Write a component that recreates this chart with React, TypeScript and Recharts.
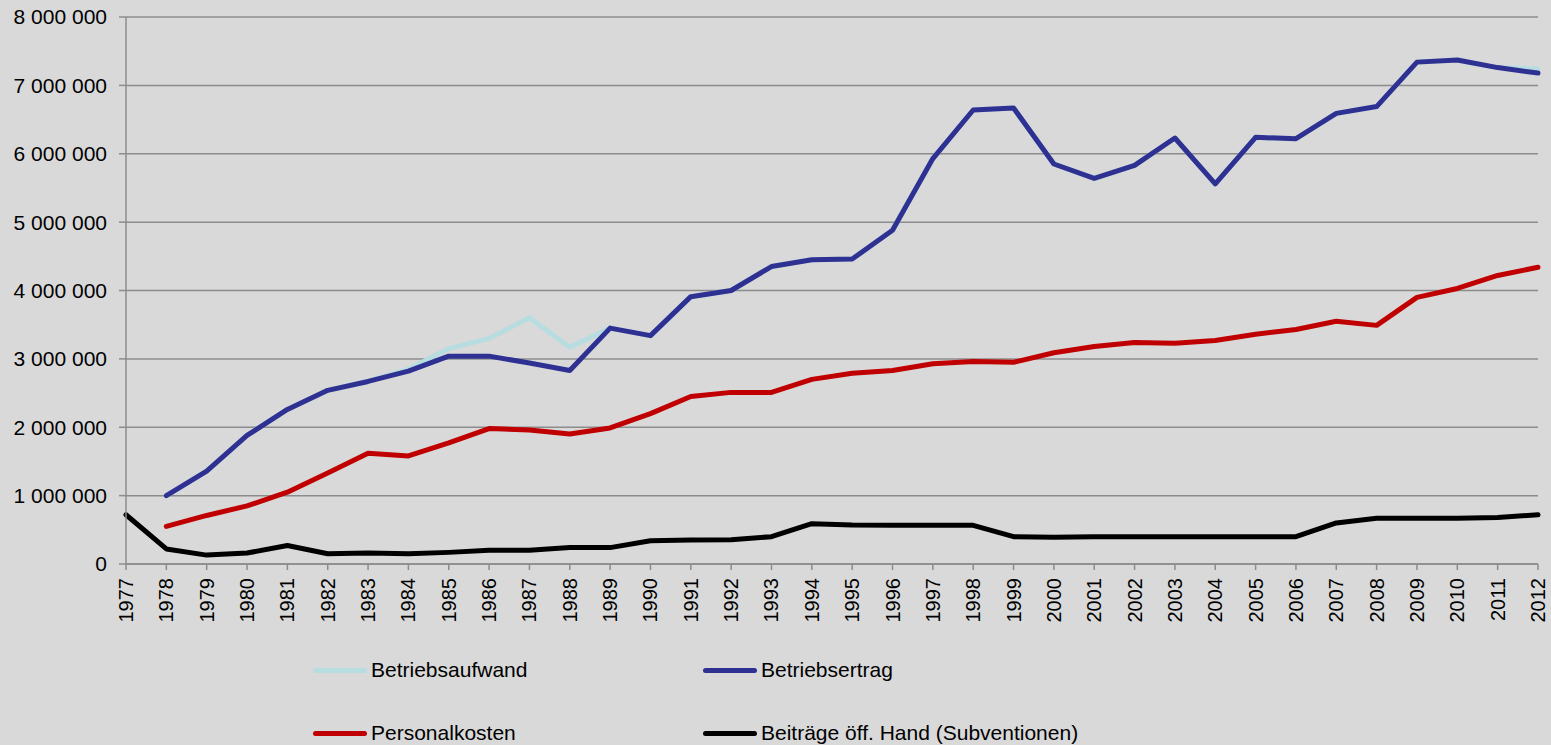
import { LineChart, Line, XAxis, YAxis, CartesianGrid } from "recharts";

/* ------------------------------------------------------------------ */
/*  Data                                                               */
/* ------------------------------------------------------------------ */

const years = [
  "1977", "1978", "1979", "1980", "1981", "1982", "1983", "1984", "1985",
  "1986", "1987", "1988", "1989", "1990", "1991", "1992", "1993", "1994",
  "1995", "1996", "1997", "1998", "1999", "2000", "2001", "2002", "2003",
  "2004", "2005", "2006", "2007", "2008", "2009", "2010", "2011", "2012",
];

const betriebsaufwand = [
  null, 1000000, 1360000, 1880000, 2260000, 2540000, 2670000, 2850000,
  3150000, 3300000, 3600000, 3170000, 3450000, 3340000, 3910000, 4000000,
  4350000, 4450000, 4460000, 4880000, 5930000, 6640000, 6670000, 5850000,
  5640000, 5830000, 6230000, 5560000, 6240000, 6220000, 6590000, 6690000,
  7340000, 7370000, 7260000, 7240000,
];

const betriebsertrag = [
  null, 1000000, 1360000, 1880000, 2260000, 2540000, 2670000, 2820000,
  3040000, 3040000, 2940000, 2830000, 3450000, 3340000, 3910000, 4000000,
  4350000, 4450000, 4460000, 4880000, 5930000, 6640000, 6670000, 5850000,
  5640000, 5830000, 6230000, 5560000, 6240000, 6220000, 6590000, 6690000,
  7340000, 7370000, 7260000, 7180000,
];

const personalkosten = [
  null, 550000, 710000, 850000, 1050000, 1330000, 1620000, 1580000,
  1770000, 1980000, 1960000, 1900000, 1990000, 2200000, 2450000, 2510000,
  2510000, 2700000, 2790000, 2830000, 2930000, 2960000, 2950000, 3090000,
  3180000, 3240000, 3230000, 3270000, 3360000, 3430000, 3550000, 3490000,
  3900000, 4030000, 4220000, 4340000,
];

const beitraege = [
  720000, 220000, 130000, 160000, 270000, 150000, 160000, 150000,
  170000, 200000, 200000, 240000, 240000, 340000, 350000, 355000,
  400000, 590000, 570000, 565000, 565000, 565000, 400000, 390000,
  400000, 400000, 400000, 400000, 400000, 400000, 600000, 670000,
  670000, 670000, 680000, 720000,
];

const yTicks = [0, 1000000, 2000000, 3000000, 4000000, 5000000, 6000000, 7000000, 8000000];

const SERIES = [
  { key: "aufwand", name: "Betriebsaufwand", color: "#b7dde1" },
  { key: "ertrag", name: "Betriebsertrag", color: "#2e3192" },
  { key: "personal", name: "Personalkosten", color: "#c00000" },
  { key: "beitraege", name: "Beiträge öff. Hand (Subventionen)", color: "#000000" },
];

const FONT = '"Liberation Sans", Arial, sans-serif';
const FONT_SIZE = 21;
const GRID = "#8c8c8c";

/* ------------------------------------------------------------------ */
/*  Helpers                                                            */
/* ------------------------------------------------------------------ */

function formatNumber(v: number) {
  return String(v).replace(/\B(?=(\d{3})+(?!\d))/g, " ");
}

function YearTick({ x, y, payload }: any) {
  return (
    <text
      x={x}
      y={y}
      transform={`rotate(-90, ${x}, ${y})`}
      textAnchor="end"
      dy="0.35em"
      fill="#000"
      fontSize={20}
      fontFamily={FONT}
    >
      {payload.value}
    </text>
  );
}

const legendRows = [
  [SERIES[0], SERIES[1]],
  [SERIES[2], SERIES[3]],
];

/* ------------------------------------------------------------------ */
/*  Component                                                          */
/* ------------------------------------------------------------------ */

export default function App() {
  const data = years.map((year, i) => ({
    year,
    aufwand: betriebsaufwand[i],
    ertrag: betriebsertrag[i],
    personal: personalkosten[i],
    beitraege: beitraege[i],
  }));

  return (
    <div
      style={{
        position: "relative",
        width: 1551,
        height: 745,
        background: "#d9d9d9",
        fontFamily: FONT,
        overflow: "hidden",
      }}
    >
      <style>{`body{margin:0}`}</style>
      <LineChart
        width={1551}
        height={745}
        data={data}
        margin={{ top: 17, right: 13, left: 0, bottom: 121 }}
      >
        <CartesianGrid vertical={false} stroke={GRID} strokeWidth={1.5} />
        <XAxis
          dataKey="year"
          interval={0}
          height={60}
          padding={{ left: 0, right: 0 }}
          tickSize={6}
          tickMargin={8}
          axisLine={{ stroke: GRID, strokeWidth: 1.5 }}
          tickLine={{ stroke: GRID, strokeWidth: 1.5 }}
          tick={<YearTick />}
        />
        <YAxis
          width={126}
          domain={[0, 8000000]}
          ticks={yTicks}
          interval={0}
          tickSize={7}
          tickMargin={12}
          tickFormatter={formatNumber}
          axisLine={{ stroke: GRID, strokeWidth: 1.5 }}
          tickLine={{ stroke: GRID, strokeWidth: 1.5 }}
          tick={{ fill: "#000", fontSize: FONT_SIZE, fontFamily: FONT }}
        />
        {SERIES.map((s) => (
          <Line
            key={s.key}
            type="linear"
            dataKey={s.key}
            name={s.name}
            stroke={s.color}
            strokeWidth={5}
            strokeLinejoin="round"
            strokeLinecap="round"
            dot={false}
            activeDot={false}
            isAnimationActive={false}
          />
        ))}
      </LineChart>

      {/* legend, two rows of two */}
      {legendRows.map((row, r) =>
        row.map((s, c) => (
          <div
            key={s.key}
            style={{
              position: "absolute",
              left: c === 0 ? 313 : 703,
              top: r === 0 ? 670 : 733,
              transform: "translateY(-50%)",
              display: "flex",
              alignItems: "center",
              fontSize: FONT_SIZE,
              color: "#000",
              whiteSpace: "nowrap",
            }}
          >
            <div
              style={{
                width: 54,
                height: 5,
                borderRadius: 3,
                background: s.color,
                marginRight: 4,
              }}
            />
            {s.name}
          </div>
        ))
      )}
    </div>
  );
}
